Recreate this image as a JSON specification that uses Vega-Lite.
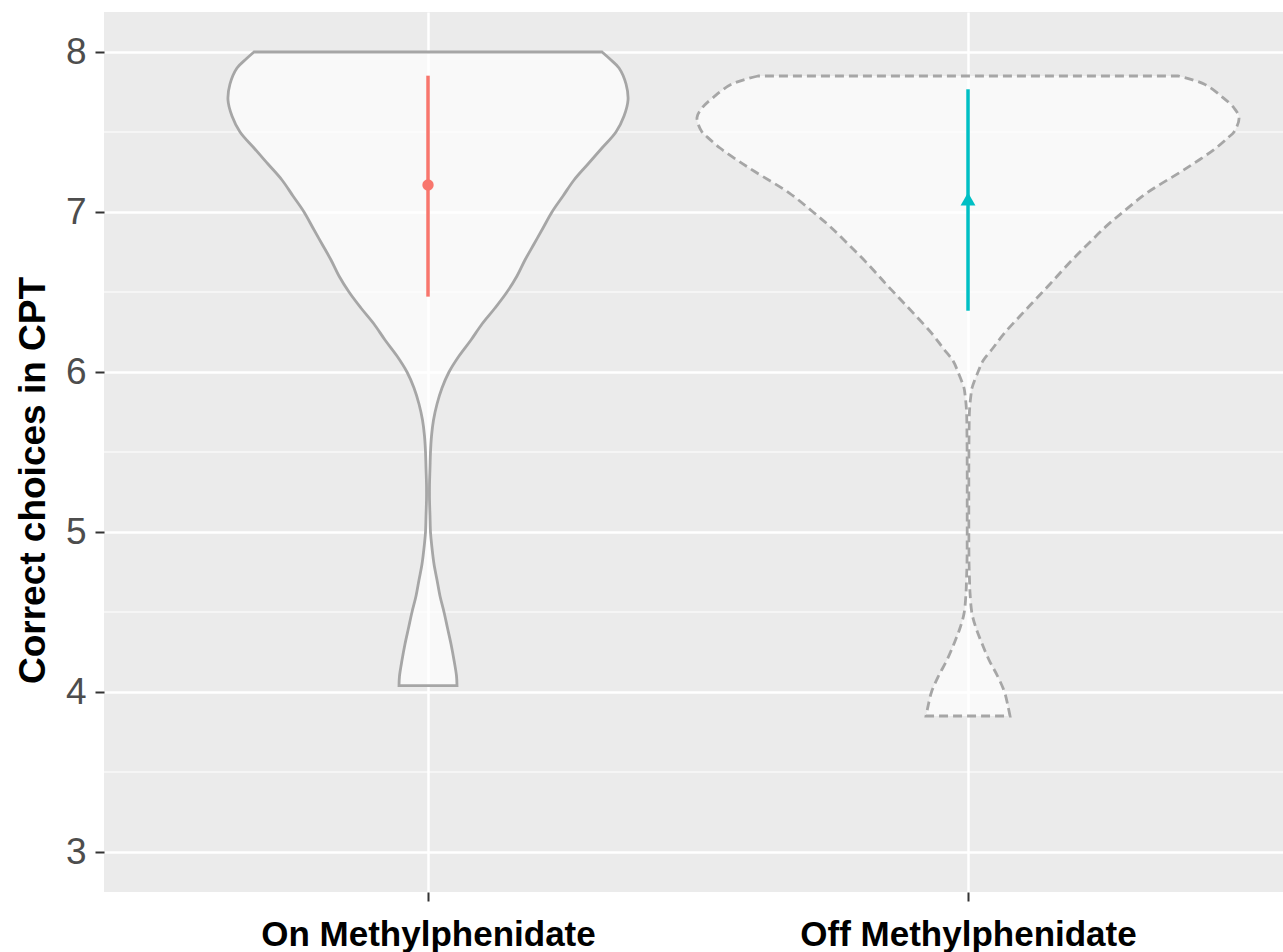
{
  "$schema": "https://vega.github.io/schema/vega-lite/v6.json",
  "width": 1179,
  "height": 880,
  "autosize": {"type": "none"},
  "padding": {"left": 104, "top": 12, "right": 0, "bottom": 60},
  "background": "white",
  "config": {"view": {"fill": "#EBEBEB", "stroke": null}, "font": "Liberation Sans"},
  "datasets": {
    "minor": [{"y": 3.5}, {"y": 4.5}, {"y": 5.5}, {"y": 6.5}, {"y": 7.5}],
    "violin": [
      {"group": "On", "y": 8.0, "lo": 0.6778, "hi": 1.3222},
      {"group": "On", "y": 7.95, "lo": 0.6611, "hi": 1.3389},
      {"group": "On", "y": 7.9, "lo": 0.6463, "hi": 1.3537},
      {"group": "On", "y": 7.8, "lo": 0.6333, "hi": 1.3667},
      {"group": "On", "y": 7.7, "lo": 0.6296, "hi": 1.3704},
      {"group": "On", "y": 7.6, "lo": 0.637, "hi": 1.363},
      {"group": "On", "y": 7.5, "lo": 0.6519, "hi": 1.3481},
      {"group": "On", "y": 7.4, "lo": 0.6778, "hi": 1.3222},
      {"group": "On", "y": 7.3, "lo": 0.7037, "hi": 1.2963},
      {"group": "On", "y": 7.2, "lo": 0.7296, "hi": 1.2704},
      {"group": "On", "y": 7.1, "lo": 0.75, "hi": 1.25},
      {"group": "On", "y": 7.0, "lo": 0.7704, "hi": 1.2296},
      {"group": "On", "y": 6.9, "lo": 0.787, "hi": 1.213},
      {"group": "On", "y": 6.8, "lo": 0.8037, "hi": 1.1963},
      {"group": "On", "y": 6.7, "lo": 0.8204, "hi": 1.1796},
      {"group": "On", "y": 6.6, "lo": 0.8352, "hi": 1.1648},
      {"group": "On", "y": 6.5, "lo": 0.8537, "hi": 1.1463},
      {"group": "On", "y": 6.4, "lo": 0.8759, "hi": 1.1241},
      {"group": "On", "y": 6.3, "lo": 0.9, "hi": 1.1},
      {"group": "On", "y": 6.2, "lo": 0.9204, "hi": 1.0796},
      {"group": "On", "y": 6.1, "lo": 0.9426, "hi": 1.0574},
      {"group": "On", "y": 6.0, "lo": 0.9611, "hi": 1.0389},
      {"group": "On", "y": 5.9, "lo": 0.9741, "hi": 1.0259},
      {"group": "On", "y": 5.8, "lo": 0.9833, "hi": 1.0167},
      {"group": "On", "y": 5.7, "lo": 0.9898, "hi": 1.0102},
      {"group": "On", "y": 5.6, "lo": 0.9935, "hi": 1.0065},
      {"group": "On", "y": 5.5, "lo": 0.9954, "hi": 1.0046},
      {"group": "On", "y": 5.4, "lo": 0.9963, "hi": 1.0037},
      {"group": "On", "y": 5.3, "lo": 0.9972, "hi": 1.0028},
      {"group": "On", "y": 5.2, "lo": 0.9972, "hi": 1.0028},
      {"group": "On", "y": 5.1, "lo": 0.9963, "hi": 1.0037},
      {"group": "On", "y": 5.0, "lo": 0.9954, "hi": 1.0046},
      {"group": "On", "y": 4.9, "lo": 0.9926, "hi": 1.0074},
      {"group": "On", "y": 4.8, "lo": 0.9889, "hi": 1.0111},
      {"group": "On", "y": 4.7, "lo": 0.9833, "hi": 1.0167},
      {"group": "On", "y": 4.6, "lo": 0.9778, "hi": 1.0222},
      {"group": "On", "y": 4.5, "lo": 0.9704, "hi": 1.0296},
      {"group": "On", "y": 4.4, "lo": 0.9639, "hi": 1.0361},
      {"group": "On", "y": 4.3, "lo": 0.9574, "hi": 1.0426},
      {"group": "On", "y": 4.2, "lo": 0.9519, "hi": 1.0481},
      {"group": "On", "y": 4.1, "lo": 0.9472, "hi": 1.0528},
      {"group": "On", "y": 4.04, "lo": 0.9463, "hi": 1.0537},
      {"group": "Off", "y": 7.85, "lo": 1.6111, "hi": 2.3889},
      {"group": "Off", "y": 7.8, "lo": 1.563, "hi": 2.437},
      {"group": "Off", "y": 7.72, "lo": 1.5296, "hi": 2.4704},
      {"group": "Off", "y": 7.65, "lo": 1.5074, "hi": 2.4926},
      {"group": "Off", "y": 7.59, "lo": 1.4981, "hi": 2.5019},
      {"group": "Off", "y": 7.5, "lo": 1.5074, "hi": 2.4926},
      {"group": "Off", "y": 7.47, "lo": 1.5167, "hi": 2.4833},
      {"group": "Off", "y": 7.4, "lo": 1.5407, "hi": 2.4593},
      {"group": "Off", "y": 7.325, "lo": 1.5722, "hi": 2.4278},
      {"group": "Off", "y": 7.25, "lo": 1.6065, "hi": 2.3935},
      {"group": "Off", "y": 7.12, "lo": 1.6685, "hi": 2.3315},
      {"group": "Off", "y": 7.0, "lo": 1.713, "hi": 2.287},
      {"group": "Off", "y": 6.91, "lo": 1.7444, "hi": 2.2556},
      {"group": "Off", "y": 6.8, "lo": 1.7778, "hi": 2.2222},
      {"group": "Off", "y": 6.68, "lo": 1.813, "hi": 2.187},
      {"group": "Off", "y": 6.55, "lo": 1.8481, "hi": 2.1519},
      {"group": "Off", "y": 6.45, "lo": 1.8759, "hi": 2.1241},
      {"group": "Off", "y": 6.35, "lo": 1.9037, "hi": 2.0963},
      {"group": "Off", "y": 6.24, "lo": 1.9333, "hi": 2.0667},
      {"group": "Off", "y": 6.15, "lo": 1.9537, "hi": 2.0463},
      {"group": "Off", "y": 6.07, "lo": 1.9722, "hi": 2.0278},
      {"group": "Off", "y": 6.0, "lo": 1.9815, "hi": 2.0185},
      {"group": "Off", "y": 5.9, "lo": 1.9926, "hi": 2.0074},
      {"group": "Off", "y": 5.86, "lo": 1.9944, "hi": 2.0056},
      {"group": "Off", "y": 5.76, "lo": 1.9972, "hi": 2.0028},
      {"group": "Off", "y": 5.6, "lo": 1.9981, "hi": 2.0019},
      {"group": "Off", "y": 5.4, "lo": 1.9985, "hi": 2.0015},
      {"group": "Off", "y": 5.2, "lo": 1.9985, "hi": 2.0015},
      {"group": "Off", "y": 5.0, "lo": 1.9985, "hi": 2.0015},
      {"group": "Off", "y": 4.8, "lo": 1.9981, "hi": 2.0019},
      {"group": "Off", "y": 4.7, "lo": 1.9972, "hi": 2.0028},
      {"group": "Off", "y": 4.62, "lo": 1.9963, "hi": 2.0037},
      {"group": "Off", "y": 4.49, "lo": 1.9926, "hi": 2.0074},
      {"group": "Off", "y": 4.4, "lo": 1.9852, "hi": 2.0148},
      {"group": "Off", "y": 4.31, "lo": 1.975, "hi": 2.025},
      {"group": "Off", "y": 4.2, "lo": 1.9611, "hi": 2.0389},
      {"group": "Off", "y": 4.1, "lo": 1.9454, "hi": 2.0546},
      {"group": "Off", "y": 4.0, "lo": 1.9324, "hi": 2.0676},
      {"group": "Off", "y": 3.91, "lo": 1.9259, "hi": 2.0741},
      {"group": "Off", "y": 3.85, "lo": 1.9222, "hi": 2.0778}
    ],
    "summary": [
      {"group": "On", "pos": 1, "mean": 7.169, "lo": 6.471, "hi": 7.852},
      {"group": "Off", "pos": 2, "mean": 7.081, "lo": 6.383, "hi": 7.767}
    ]
  },
  "layer": [
    {
      "data": {"name": "minor"},
      "mark": {"type": "rule", "color": "white", "strokeWidth": 1.2},
      "encoding": {
        "y": {
          "field": "y", "type": "quantitative",
          "scale": {"domain": [2.75, 8.25], "nice": false, "zero": false},
          "axis": {
            "values": [3, 4, 5, 6, 7, 8],
            "format": "d",
            "title": "Correct choices in CPT",
            "titleFont": "Liberation Sans", "titleFontSize": 37, "titleFontWeight": "bold", "titleColor": "black",
            "titleX": -60, "titleY": 468, "titleAlign": "center", "titleBaseline": "alphabetic", "titleAngle": -90,
            "labelFont": "Liberation Sans", "labelFontSize": 37, "labelColor": "#4D4D4D", "labelPadding": 9,
            "tickSize": 9, "tickColor": "#333333", "tickWidth": 2,
            "domain": false, "grid": true, "gridColor": "white", "gridWidth": 2.5
          }
        }
      }
    },
    {
      "data": {"name": "violin"},
      "transform": [{"filter": "datum.group == 'On'"}],
      "mark": {"type": "area", "orient": "horizontal", "interpolate": "catmull-rom", "fill": "white", "fillOpacity": 0.7, "stroke": "#A6A6A6", "strokeWidth": 2.8},
      "encoding": {
        "y": {"field": "y", "type": "quantitative", "scale": {"domain": [2.75, 8.25], "nice": false, "zero": false}},
        "x": {
          "field": "lo", "type": "quantitative",
          "scale": {"domain": [0.4, 2.5833], "nice": false, "zero": false},
          "axis": {
            "values": [1, 2],
            "labelExpr": "datum.value == 1 ? 'On Methylphenidate' : 'Off Methylphenidate'",
            "title": null,
            "labelFont": "Liberation Sans", "labelFontSize": 35, "labelFontWeight": "bold", "labelColor": "black",
            "labelPadding": 16, "labelDx": -5, "labelFlush": false, "labelOverlap": false, "labelBound": false, "labelLimit": 0,
            "tickSize": 9, "tickColor": "#333333", "tickWidth": 2,
            "domain": false, "grid": true, "gridColor": "white", "gridWidth": 2.5
          }
        },
        "x2": {"field": "hi"}
      }
    },
    {
      "data": {"name": "violin"},
      "transform": [{"filter": "datum.group == 'Off'"}],
      "mark": {"type": "area", "orient": "horizontal", "interpolate": "catmull-rom", "fill": "white", "fillOpacity": 0.7, "stroke": "#A6A6A6", "strokeWidth": 2.8, "strokeDash": [9, 5]},
      "encoding": {
        "y": {"field": "y", "type": "quantitative", "scale": {"domain": [2.75, 8.25], "nice": false, "zero": false}},
        "x": {"field": "lo", "type": "quantitative", "scale": {"domain": [0.4, 2.5833], "nice": false, "zero": false}},
        "x2": {"field": "hi"}
      }
    },
    {
      "data": {"name": "summary"},
      "mark": {"type": "rule", "strokeWidth": 3.5},
      "encoding": {
        "x": {"field": "pos", "type": "quantitative", "scale": {"domain": [0.4, 2.5833], "nice": false, "zero": false}},
        "y": {"field": "lo", "type": "quantitative", "scale": {"domain": [2.75, 8.25], "nice": false, "zero": false}},
        "y2": {"field": "hi"},
        "color": {"field": "group", "type": "nominal", "scale": {"domain": ["On", "Off"], "range": ["#F8766D", "#00BFC4"]}, "legend": null}
      }
    },
    {
      "data": {"name": "summary"},
      "mark": {"type": "point", "filled": true, "opacity": 1},
      "encoding": {
        "x": {"field": "pos", "type": "quantitative", "scale": {"domain": [0.4, 2.5833], "nice": false, "zero": false}},
        "y": {"field": "mean", "type": "quantitative", "scale": {"domain": [2.75, 8.25], "nice": false, "zero": false}},
        "color": {"field": "group", "type": "nominal", "scale": {"domain": ["On", "Off"], "range": ["#F8766D", "#00BFC4"]}, "legend": null},
        "shape": {"field": "group", "type": "nominal", "scale": {"domain": ["On", "Off"], "range": ["circle", "triangle-up"]}, "legend": null},
        "size": {"field": "group", "type": "nominal", "scale": {"domain": ["On", "Off"], "range": [130, 220]}, "legend": null}
      }
    }
  ]
}
